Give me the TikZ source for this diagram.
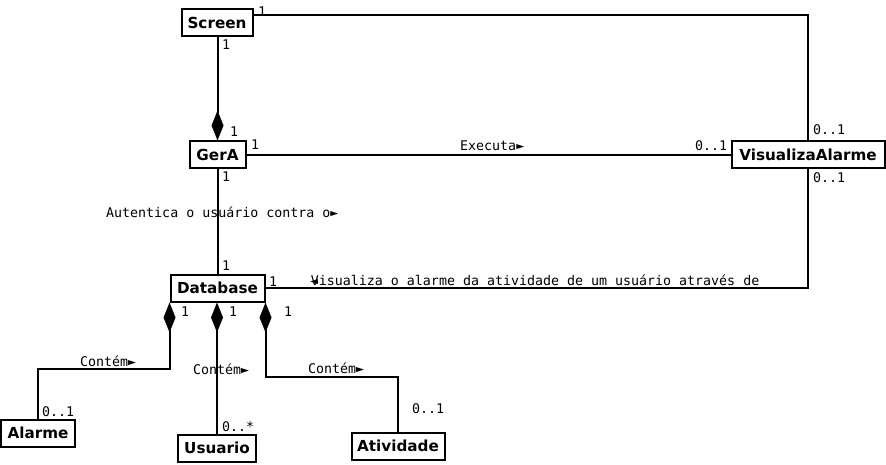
\documentclass[tikz,border=0pt]{standalone}
\usepackage{fontspec}
\newfontfamily\boxfont{DejaVu Sans}
\newfontfamily\labfont{DejaVu Sans Mono}
\usetikzlibrary{arrows.meta}
\tikzset{
  cls/.style={draw, line width=2pt, inner sep=0pt, minimum height=27pt,
    font=\boxfont\bfseries\fontsize{15.2}{17}\selectfont},
  lbl/.style={inner sep=0pt, anchor=base west, font=\labfont\fontsize{13.3}{15}\selectfont},
  conn/.style={line width=2pt},
  comp/.style={line width=2pt, {Diamond[length=30pt,width=12pt]}-}
}
\begin{document}
\begin{tikzpicture}[x=1pt,y=-1pt]
\useasboundingbox (0,0) rectangle (886,465);
% classes
\node[cls, minimum width=71pt] (screen) at (217,23) {Screen};
\node[cls, minimum width=56pt] (gera) at (217.5,155) {GerA};
\node[cls, minimum width=153pt] (vis) at (808,155) {VisualizaAlarme};
\node[cls, minimum width=94pt] (db) at (217.5,288) {Database};
\node[cls, minimum width=74pt] (alarme) at (38,433) {Alarme};
\node[cls, minimum width=78pt] (usuario) at (217,448) {Usuario};
\node[cls, minimum width=93pt] (ativ) at (398,446) {Atividade};
% connectors
\draw[comp] (gera.north) -- (gera.north |- screen.south);
\draw[conn] (screen.east |- 0,15) -| (vis.north);
\draw[conn] (gera.east) -- (vis.west);
\draw[conn] (gera.south) -- (gera.south |- db.north);
\draw[conn] (db.east) -| (vis.south);
\draw[comp] (db.south west) -- ++(0,66) -| (alarme.north);
\draw[comp] (db.south -| usuario.north) -- (usuario.north);
\draw[comp] (db.south east) -- ++(0,74) -| (ativ.north);
% labels
\node[lbl] (l1) at (258,17) {1};
\node[lbl] (l2) at (222,50) {1};
\node[lbl] (l3) at (230,137) {1};
\node[lbl] (l4) at (251,150) {1};
\node[lbl] (l5) at (222,182) {1};
\node[lbl] (l6) at (222,270) {1};
\node[lbl] (l7) at (269,286) {1};
\node[lbl] (l8) at (181,316) {1};
\node[lbl] (l9) at (229,316) {1};
\node[lbl] (l10) at (284,316) {1};
\node[lbl] (m1) at (813,135) {0..1};
\node[lbl] (m2) at (695,151) {0..1};
\node[lbl] (m3) at (813,183) {0..1};
\node[lbl] (m4) at (42,416) {0..1};
\node[lbl] (m5) at (222,431) {0..*};
\node[lbl] (m6) at (412,413) {0..1};
\node[lbl] (t1) at (460,151) {Executa►};
\node[lbl] (t2) at (106,218) {Autentica o usuário contra o►};
\node[lbl] (t3) at (310,285) {◄\hspace{-0.55em}Visualiza o alarme da atividade de um usuário através de};
\node[lbl] (t4) at (80,366) {Contém►};
\node[lbl] (t5) at (193,374) {Contém►};
\node[lbl] (t6) at (308,373) {Contém►};
\end{tikzpicture}
\end{document}
